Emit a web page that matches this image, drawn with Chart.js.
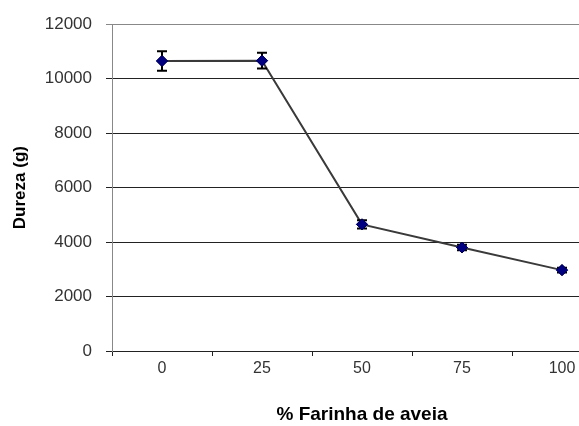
<!DOCTYPE html>
<html>
<head>
<meta charset="utf-8">
<script src="https://cdn.jsdelivr.net/npm/chart.js@4"></script>
<style>
html,body{margin:0;padding:0;background:#fff;overflow:hidden;width:579px;height:426px;}
canvas{display:block;}
</style>
</head>
<body>
<canvas id="c" width="640" height="426"></canvas>
<script>
const categories = ['0', '25', '50', '75', '100'];
const dureza = [10650, 10660, 4650, 3800, 2970];
const erro = [360, 290, 150, 100, 90];
const yTicks = [0, 2000, 4000, 6000, 8000, 10000, 12000];

const errorBars = {
  id: 'errorBars',
  afterDatasetsDraw(chart) {
    const ctx = chart.ctx;
    const meta = chart.getDatasetMeta(0);
    const y = chart.scales.y;
    ctx.save();
    ctx.strokeStyle = '#000';
    ctx.lineWidth = 2;
    meta.data.forEach((pt, i) => {
      const x = pt.x;
      const top = y.getPixelForValue(dureza[i] + erro[i]);
      const bot = y.getPixelForValue(dureza[i] - erro[i]);
      ctx.beginPath();
      ctx.moveTo(x, top); ctx.lineTo(x, bot);
      ctx.moveTo(x - 5, top); ctx.lineTo(x + 5, top);
      ctx.moveTo(x - 5, bot); ctx.lineTo(x + 5, bot);
      ctx.stroke();
    });
    ctx.restore();
    meta.data.forEach(pt => pt.draw(ctx, chart.chartArea));
  }
};

new Chart(document.getElementById('c'), {
  type: 'line',
  data: {
    labels: categories,
    datasets: [{
      data: dureza,
      borderColor: '#3a3a3a',
      borderWidth: 2,
      pointStyle: 'rectRot',
      pointRadius: 5.5,
      pointBackgroundColor: '#000080',
      pointBorderColor: '#000060',
      pointBorderWidth: 1,
      tension: 0
    }]
  },
  options: {
    responsive: false,
    animation: false,
    layout: { padding: { left: 0, right: 28, top: 21, bottom: 0 } },
    plugins: { legend: { display: false }, tooltip: { enabled: false } },
    scales: {
      x: {
        type: 'category',
        offset: true,
        grid: { offset: true, drawOnChartArea: false, drawTicks: true, tickLength: 5, color: '#222', lineWidth: 1 },
        border: { color: '#222', width: 1 },
        ticks: { color: '#333', font: { family: 'Liberation Sans, Arial', size: 16 }, padding: 3, maxRotation: 0 },
        title: { display: true, text: '% Farinha de aveia', color: '#000', font: { family: 'Liberation Sans, Arial', size: 19, weight: 'bold' }, padding: { top: 12, bottom: 0 } },
        afterFit: s => { s.height = 75; }
      },
      y: {
        min: 0, max: 12000,
        afterBuildTicks: s => { s.ticks = yTicks.map(v => ({ value: v })); },
        grid: {
          color: ctx => ctx.tick && ctx.tick.value === 12000 ? '#888' : '#222',
          lineWidth: 1, tickLength: 6
        },
        border: { color: '#888', width: 1 },
        ticks: { color: '#333', font: { family: 'Liberation Sans, Arial', size: 17 }, padding: 14, callback: v => String(v) },
        title: { display: true, text: 'Dureza (g)', color: '#000', font: { family: 'Liberation Sans, Arial', size: 17, weight: 'bold' }, padding: { top: 10, bottom: 0 } },
        afterFit: s => { s.width = 112; }
      }
    }
  },
  plugins: [errorBars]
});
</script>
</body>
</html>
